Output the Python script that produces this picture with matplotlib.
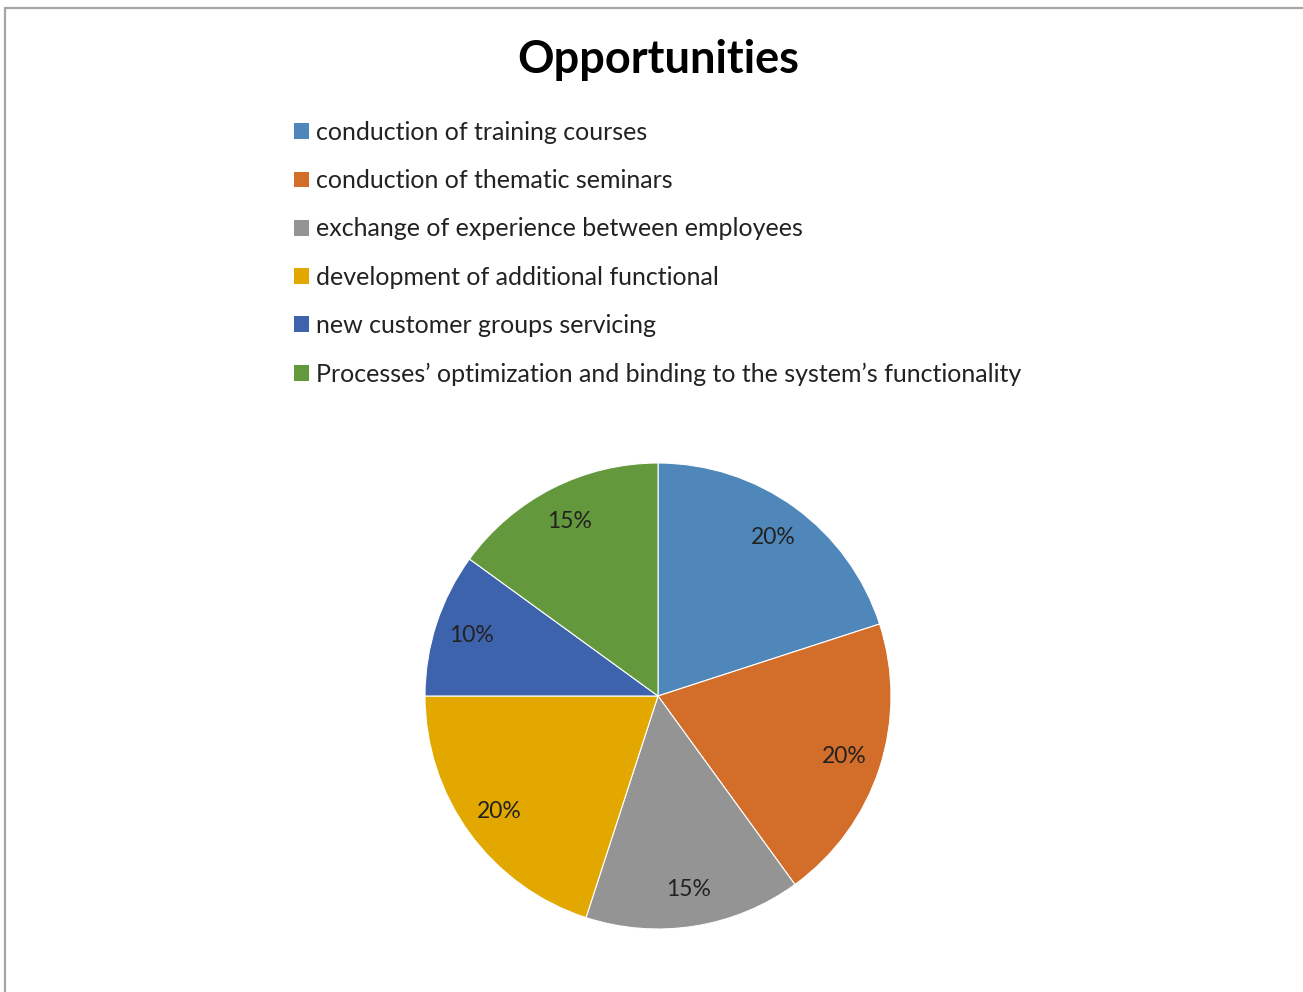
import matplotlib.pyplot as plt
from matplotlib.patches import Rectangle

plt.rcParams['font.family'] = ['Lato', 'DejaVu Sans']

# --- Data ---
categories = [
    'conduction of training courses',
    'conduction of thematic seminars',
    'exchange of experience between employees',
    'development of additional functional',
    'new customer groups servicing',
    'Processes\u2019 optimization and binding to the system\u2019s functionality',
]
shares = [20, 20, 15, 20, 10, 15]
colors = ['#4f87bb', '#d36d2a', '#949494', '#e2a800', '#3d63ad', '#63993c']

fig = plt.figure(figsize=(13.03, 9.92), dpi=100)

# chart frame (runs off the right and bottom edges)
fig.patches.append(Rectangle((5 / 1303, -0.05), 1.2, (992 - 8) / 992 + 0.05,
                             transform=fig.transFigure, fill=False,
                             edgecolor='#a6a6a6', linewidth=1.6))

fig.text(658 / 1303, 1 - 60 / 992, 'Opportunities', ha='center', va='center',
         fontsize=32.5, fontweight='bold', color='black')

# pie: center (658, 696), radius 233 px
r = 233
ax = fig.add_axes([(658 - r) / 1303, 1 - (696 + r) / 992, 2 * r / 1303, 2 * r / 992])
wedges, texts = ax.pie(shares, colors=colors, startangle=90, counterclock=False,
                       labels=[f'{s}%' for s in shares], labeldistance=0.84,
                       wedgeprops=dict(edgecolor='white', linewidth=0.8),
                       textprops=dict(fontsize=16.5, color='#222222',
                                      ha='center', va='center'))
for t in texts:
    t.set_horizontalalignment('center')
ax.set_xlim(-1, 1)
ax.set_ylim(-1, 1)
ax.set_aspect('equal')
ax.axis('off')

leg = fig.legend(wedges, categories, loc='upper left',
                 bbox_to_anchor=(284 / 1303, 1 - 111 / 992),
                 frameon=False, fontsize=18, handlelength=0.6, handleheight=0.6,
                 handletextpad=0.3, labelspacing=1.01, borderaxespad=0,
                 labelcolor='#222222')
for h in leg.legend_handles:
    h.set_edgecolor('none')

fig.savefig('out.png', dpi=100, facecolor='white')
